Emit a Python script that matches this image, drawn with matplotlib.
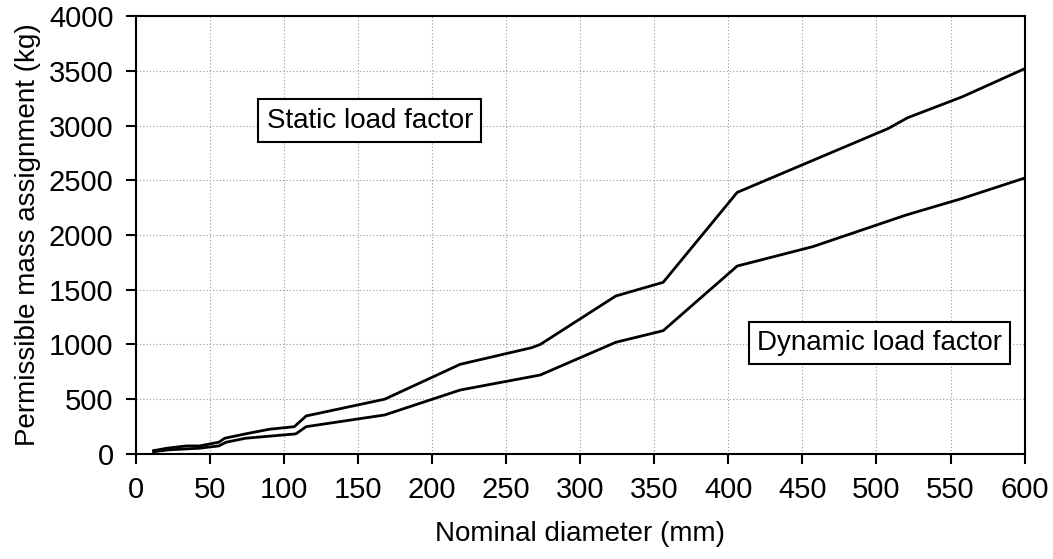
import matplotlib
matplotlib.use("Agg")
import matplotlib.pyplot as plt

# nominal diameter (mm) and permissible mass (kg)
static_x = [12, 21, 34, 43, 56, 60, 74, 90, 107, 115, 168, 219, 267, 273,
            324, 356, 406, 508, 521, 558, 610]
static_y = [30, 52, 73, 73, 107, 143, 183, 225, 249, 347, 500, 819, 970,
            1000, 1443, 1568, 2390, 2974, 3072, 3264, 3581]

dynamic_x = [12, 22, 43, 56, 61, 74, 108, 115, 168, 219, 273, 324, 356,
             406, 457, 520, 558, 610]
dynamic_y = [20, 37, 52, 73, 107, 143, 183, 249, 356, 584, 721, 1020, 1126,
             1717, 1894, 2183, 2335, 2565]

x_ticks = list(range(0, 601, 50))
y_ticks = list(range(0, 4001, 500))

plt.rcParams['font.family'] = ['Liberation Sans', 'DejaVu Sans']
plt.rcParams['font.size'] = 20

fig = plt.figure(figsize=(10.53, 5.59), dpi=100)
ax = fig.add_axes([0.129, 0.188, 0.844, 0.783])

ax.plot(static_x, static_y, color='black', linewidth=2.0)
ax.plot(dynamic_x, dynamic_y, color='black', linewidth=2.0)

ax.set_xlim(0, 600)
ax.set_ylim(0, 4000)
ax.set_xticks(x_ticks)
ax.set_yticks(y_ticks)
ax.grid(True, color='#999999', linestyle=(0, (1, 2)), linewidth=0.8)
ax.set_axisbelow(True)

for s in ax.spines.values():
    s.set_linewidth(1.5)
ax.tick_params(direction='out', length=7, width=1.5, pad=9, labelsize=21)

ax.set_xlabel('Nominal diameter (mm)', labelpad=12)
ax.set_ylabel('Permissible mass assignment (kg)', labelpad=6)

box = dict(boxstyle='square,pad=0.3', facecolor='white', edgecolor='black', linewidth=1.5)
ax.text(158, 3046, 'Static load factor', ha='center', va='center', bbox=box)
ax.text(502, 1014, 'Dynamic load factor', ha='center', va='center', bbox=box)

fig.savefig('out.png', dpi=100)
